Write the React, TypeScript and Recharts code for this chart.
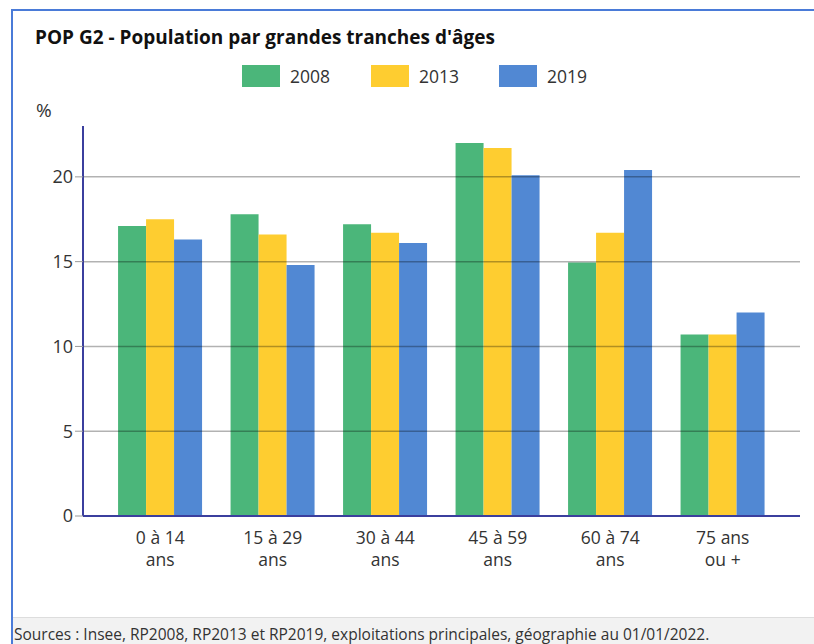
import React from 'react';
import { BarChart, Bar, XAxis, YAxis, ReferenceLine } from 'recharts';

const categories = ['0 à 14\nans', '15 à 29\nans', '30 à 44\nans', '45 à 59\nans', '60 à 74\nans', '75 ans\nou +'];
const years = ['2008', '2013', '2019'];
const values2008 = [17.1, 17.8, 17.2, 22.0, 14.95, 10.7];
const values2013 = [17.5, 16.6, 16.7, 21.7, 16.7, 10.7];
const values2019 = [16.3, 14.8, 16.1, 20.1, 20.4, 12.0];
const yTicks = [0, 5, 10, 15, 20];
const colors = ['#4bb67a', '#fecd30', '#5188d3'];

const data = categories.map((c, i) => ({
  name: c,
  y2008: values2008[i],
  y2013: values2013[i],
  y2019: values2019[i],
}));

const FONT = '"Open Sans", sans-serif';
const legendLeft = [242, 371, 499];

const CategoryTick = (props: any) => {
  const { x, y, payload } = props;
  const lines = String(payload.value).split('\n');
  return (
    <g transform={`translate(${x},${y})`}>
      {lines.map((l, i) => (
        <text key={i} x={0} y={20 + i * 22} textAnchor="middle" fill="#333" fontSize={17.5} fontFamily={FONT}>
          {l}
        </text>
      ))}
    </g>
  );
};

export default function App() {
  return (
    <div style={{ position: 'absolute', left: 0, top: 0, width: 814, height: 644, background: '#fff', overflow: 'hidden', fontFamily: FONT }}>
      <div style={{ position: 'absolute', left: 11, top: 9, right: -4, bottom: -4, borderLeft: '2px solid #4a7bd8', borderTop: '2px solid #4a7bd8' }} />
      <div style={{ position: 'absolute', left: 35, top: 24, fontSize: 19, fontWeight: 700, color: '#111', whiteSpace: 'nowrap' }}>
        POP G2 - Population par grandes tranches d'âges
      </div>
      {years.map((yr, i) => (
        <div key={yr} style={{ position: 'absolute', left: legendLeft[i], top: 64, display: 'flex', alignItems: 'center', fontSize: 17.5, color: '#333' }}>
          <div style={{ width: 38, height: 22, background: colors[i], marginRight: 10 }} />
          <span>{yr}</span>
        </div>
      ))}
      <div style={{ position: 'absolute', left: 36, top: 97, fontSize: 19, color: '#333' }}>%</div>
      <div style={{ position: 'absolute', left: 0, top: 0 }}>
        <BarChart
          width={814}
          height={644}
          data={data}
          margin={{ top: 126, right: 14, bottom: 68, left: 23 }}
          barCategoryGap="12.5%"
          barGap={0}
        >
          <XAxis
            dataKey="name"
            interval={0}
            tick={<CategoryTick />}
            tickLine={false}
            axisLine={{ stroke: '#3b3f9e', strokeWidth: 2 }}
            padding={{ left: 21, right: 21 }}
            height={60}
          />
          <YAxis
            domain={[0, 23]}
            ticks={yTicks}
            width={60}
            tick={{ fill: '#333', fontSize: 18, fontFamily: FONT }}
            tickLine={{ stroke: '#999' }}
            tickSize={8}
            axisLine={{ stroke: '#3b3f9e', strokeWidth: 2 }}
          />
          <Bar dataKey="y2008" name="2008" fill={colors[0]} isAnimationActive={false} />
          <Bar dataKey="y2013" name="2013" fill={colors[1]} isAnimationActive={false} />
          <Bar dataKey="y2019" name="2019" fill={colors[2]} isAnimationActive={false} />
          {yTicks.slice(1).map((t) => (
            <ReferenceLine key={t} y={t} stroke="#000" strokeOpacity={0.3} strokeWidth={1.5} />
          ))}
        </BarChart>
      </div>
      <div style={{ position: 'absolute', left: 13, right: 0, top: 617, bottom: 0, background: '#f2f2f2', borderTop: '1px solid #ddd' }}>
        <div style={{ position: 'absolute', left: 1, top: 5, fontSize: 15.5, color: '#333', whiteSpace: 'nowrap' }}>
          Sources : Insee, RP2008, RP2013 et RP2019, exploitations principales, géographie au 01/01/2022.
        </div>
      </div>
    </div>
  );
}
